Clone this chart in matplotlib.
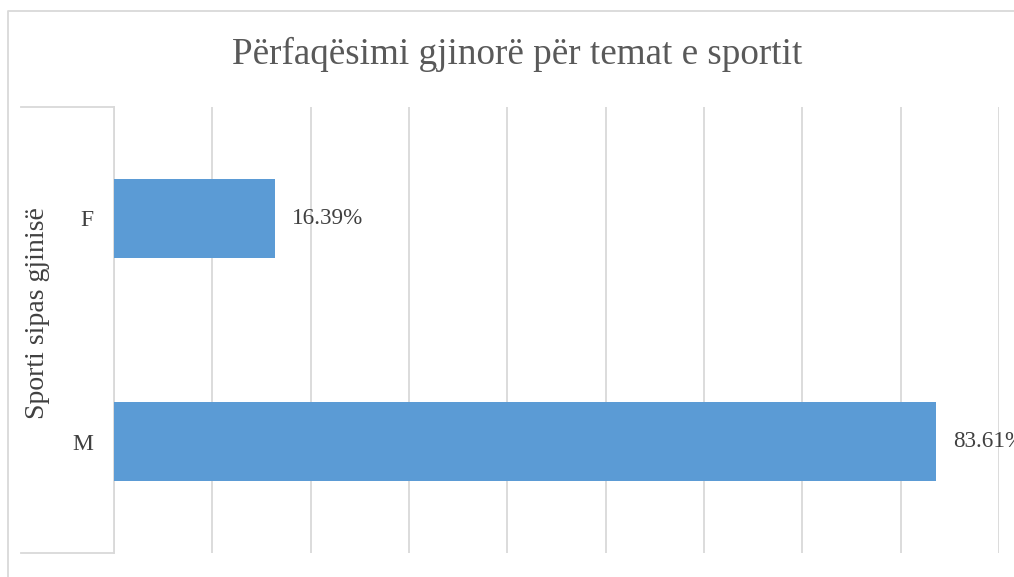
import matplotlib
matplotlib.use("Agg")
import matplotlib.pyplot as plt
from matplotlib.lines import Line2D

categories = ["M", "F"]
values = [83.61, 16.39]
labels = ["83.61%", "16.39%"]
title = "Përfaqësimi gjinorë për temat e sportit"
ylabel = "Sporti sipas gjinisë"

W, H = 1014, 577
plt.rcParams["font.family"] = ["Liberation Serif", "DejaVu Serif"]

fig = plt.figure(figsize=(W / 100, H / 100), dpi=100)


def fx(px):
    return px / W


def fy(py):
    return 1 - py / H


# plot area in pixel coords of the reference
left, right, top, bottom = 114, 999, 107, 553
ax = fig.add_axes([fx(left), fy(bottom), fx(right - left), (bottom - top) / H])

grid_col = "#d9d9d9"
ax.barh(range(len(categories)), values, height=0.355, color="#5b9bd5", zorder=3)
ax.set_xlim(0, 90)
ax.set_ylim(-0.5, 1.5)
ax.set_xticks(range(0, 91, 10))
ax.xaxis.set_tick_params(length=0, labelbottom=False)
ax.grid(axis="x", color=grid_col, linewidth=1.3, zorder=0)
ax.set_yticks(range(len(categories)))
ax.set_yticklabels(categories, fontsize=17, color="#404040")
ax.yaxis.set_tick_params(length=0, pad=15)
for s in ["top", "right", "bottom"]:
    ax.spines[s].set_visible(False)
ax.spines["left"].set_color(grid_col)
ax.spines["left"].set_linewidth(1.3)

for i, (v, lab) in enumerate(zip(values, labels)):
    ax.annotate(lab, (v, i), xytext=(12, 0), textcoords="offset points",
                va="center", ha="left", fontsize=16.7, color="#404040",
                annotation_clip=False)

# outer category bracket
for py in (top, bottom):
    fig.add_artist(Line2D([fx(21), fx(left)], [fy(py), fy(py)],
                          color=grid_col, linewidth=1.3))
fig.text(fx(38), fy(313), ylabel, rotation=90, ha="center", va="center",
         fontsize=20, color="#404040")

# chart border
fig.add_artist(Line2D([fx(8), fx(8), fx(1020)], [fy(590), fy(11), fy(11)],
                      color=grid_col, linewidth=1.3))

fig.text(fx(517), fy(54), title, ha="center", va="center",
         fontsize=26.7, color="#595959")

fig.savefig("out.png", dpi=100)
